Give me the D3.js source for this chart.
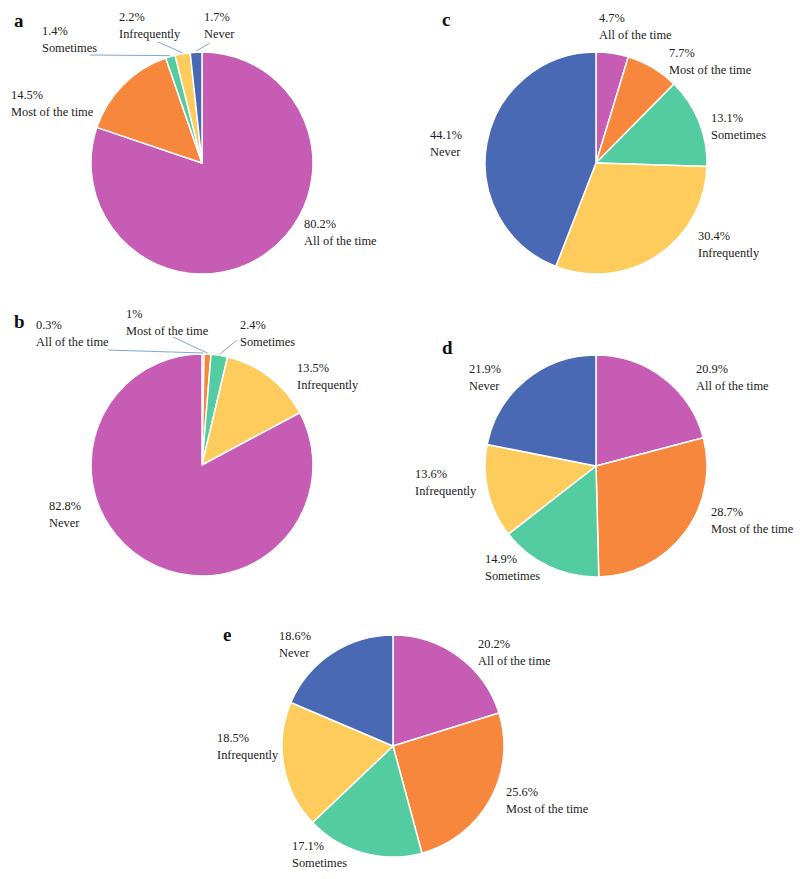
<!DOCTYPE html>
<html><head><meta charset="utf-8">
<script src="https://cdn.jsdelivr.net/npm/d3@7"></script>
<style>body{margin:0;background:#fff}svg{display:block}</style>
</head><body>
<script>
const categories = ["All of the time","Most of the time","Sometimes","Infrequently","Never"];
const valuesA = [80.2,14.5,1.4,2.2,1.7];
const valuesB = [0.3,1,2.4,13.5,82.8];
const valuesC = [4.7,7.7,13.1,30.4,44.1];
const valuesD = [20.9,28.7,14.9,13.6,21.9];
const valuesE = [20.2,25.6,17.1,18.5,18.6];
const valueLabels = v => (v % 1 === 0 ? v.toFixed(0) : v.toFixed(1)) + "%";

const PURPLE="#c65cb4", ORANGE="#f6873d", GREEN="#53cca1", YELLOW="#fdcc5c", BLUE="#4a69b5";
const colorsStd = [PURPLE,ORANGE,GREEN,YELLOW,BLUE];
const colorsB = [PURPLE,ORANGE,GREEN,YELLOW,PURPLE];
const FONT = "'Liberation Serif', 'Times New Roman', 'DejaVu Serif', serif";

const W=800,H=879,R=111;
const svg=d3.select("body").append("svg").attr("width",W).attr("height",H);

// layout: centres, panel letters, label anchors [x, baseline of pct], leader start points
const panels=[
 {id:"a",values:valuesA,colors:colorsStd,cx:202,cy:163,letter:[14,27],
  labels:[[304,228],[11,99],[42,35],[119,21],[204,21]],
  leaders:[null,null,[90,55],[158,42],[210,43]]},
 {id:"b",values:valuesB,colors:colorsB,cx:202,cy:465,letter:[14,328],
  labels:[[36,329],[126,318],[240,329],[297,372],[49,510]],
  leaders:[[108,350],[173,337],[237,340],null,null]},
 {id:"c",values:valuesC,colors:colorsStd,cx:596,cy:163,letter:[442,26],
  labels:[[599,22],[669,57],[711,122],[698,240],[430,139]],
  leaders:[null,null,null,null,null]},
 {id:"d",values:valuesD,colors:colorsStd,cx:596,cy:466,letter:[442,354],
  labels:[[696,373],[711,516],[485,563],[415,478],[469,373]],
  leaders:[null,null,null,null,null]},
 {id:"e",values:valuesE,colors:colorsStd,cx:393,cy:746,letter:[223,641],
  labels:[[478,648],[506,796],[292,850],[217,742],[279,640]],
  leaders:[null,null,null,null,null]}
];

const pie=d3.pie().sort(null).value(d=>d.v);
const arc=d3.arc().innerRadius(0).outerRadius(R);

panels.forEach(p=>{
  const data=p.values.map((v,i)=>({v,cat:categories[i],i}));
  const arcs=pie(data);
  const g=svg.append("g").attr("transform",`translate(${p.cx},${p.cy})`);
  g.selectAll("path").data(arcs).join("path")
   .attr("d",arc).attr("fill",d=>p.colors[d.data.i])
   .attr("stroke","#fff").attr("stroke-width",1.5).attr("stroke-linejoin","round");
  svg.append("text").attr("x",p.letter[0]).attr("y",p.letter[1])
   .attr("font-family",FONT).attr("font-size",19).attr("font-weight","bold")
   .attr("fill","#111").text(p.id);
  arcs.forEach((a,i)=>{
    const [lx,ly]=p.labels[i];
    const t=svg.append("text").attr("x",lx).attr("y",ly)
      .attr("font-family",FONT).attr("font-size",12.4).attr("fill","#222");
    t.append("tspan").attr("x",lx).text(valueLabels(a.data.v));
    t.append("tspan").attr("x",lx).attr("dy",17).text(a.data.cat);
    if(p.leaders[i]){
      const m=(a.startAngle+a.endAngle)/2;
      const ex=p.cx+(R+1)*Math.sin(m), ey=p.cy-(R+1)*Math.cos(m);
      svg.append("line").attr("x1",p.leaders[i][0]).attr("y1",p.leaders[i][1])
       .attr("x2",ex).attr("y2",ey).attr("stroke","#7ea7d4").attr("stroke-width",1);
    }
  });
});
</script>
</body></html>
